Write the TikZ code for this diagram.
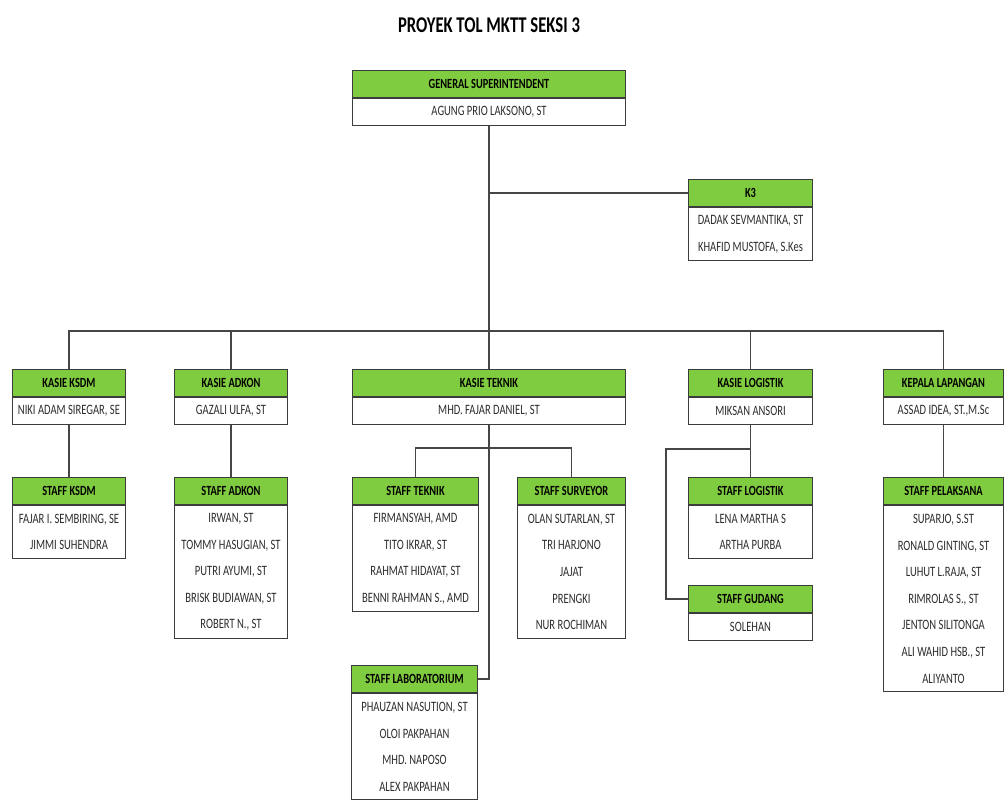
\documentclass[tikz,border=0pt]{standalone}
\usepackage{fontspec}
\setmainfont{Carlito}[FakeStretch=0.74]
\usepackage{tikz}
\usetikzlibrary{calc}
\usepackage{xcolor}
\definecolor{kgreen}{RGB}{128,204,64}
\definecolor{boxline}{RGB}{60,60,60}
\definecolor{linegray}{RGB}{70,70,70}
\definecolor{nametext}{RGB}{45,45,45}

\tikzset{
  head/.style={draw=boxline, line width=1pt, fill=kgreen, anchor=north west,
    minimum height=27pt, inner sep=0pt, text=black,
    font=\bfseries\fontsize{14}{14}\selectfont},
  body/.style={draw=boxline, line width=1pt, fill=white, anchor=north,
    align=center, inner sep=0pt, text=nametext,
    font=\fontsize{14.3}{26.6}\selectfont},
  link/.style={draw=linegray, line width=1.3pt}
}

\begin{document}
\begin{tikzpicture}[x=1pt,y=1pt]
\useasboundingbox (0,0) rectangle (1004,-801);

% Title
\node[font=\bfseries\fontsize{22.5}{22.5}\selectfont] (title) at (489,-25) {PROYEK TOL MKTT SEKSI 3};

% Top
\node[head, minimum width=273pt] (gs) at (352,-70) {GENERAL SUPERINTENDENT};
\node[body, minimum width=273pt, minimum height=26.6pt] (gsB) at (gs.south) {AGUNG PRIO LAKSONO, ST};

% K3
\node[head, minimum width=124pt] (k3) at (688,-179) {K3};
\node[body, minimum width=124pt, minimum height=53.2pt] (k3B) at (k3.south) {DADAK SEVMANTIKA, ST\\KHAFID MUSTOFA, S.Kes};

% Kasie row
\node[head, minimum width=113pt] (kksdm) at (12,-369) {KASIE KSDM};
\node[body, minimum width=113pt, minimum height=26.6pt] (kksdmB) at (kksdm.south) {NIKI ADAM SIREGAR, SE};
\node[head, minimum width=113pt] (kadkon) at (174,-369) {KASIE ADKON};
\node[body, minimum width=113pt, minimum height=26.6pt] (kadkonB) at (kadkon.south) {GAZALI ULFA, ST};
\node[head, minimum width=273pt] (ktek) at (352,-369) {KASIE TEKNIK};
\node[body, minimum width=273pt, minimum height=26.6pt] (ktekB) at (ktek.south) {MHD. FAJAR DANIEL, ST};
\node[head, minimum width=124pt] (klog) at (688,-369) {KASIE LOGISTIK};
\node[body, minimum width=124pt, minimum height=26.6pt] (klogB) at (klog.south) {MIKSAN ANSORI};
\node[head, minimum width=120pt] (kpl) at (883,-369) {KEPALA LAPANGAN};
\node[body, minimum width=120pt, minimum height=26.6pt] (kplB) at (kpl.south) {ASSAD IDEA, ST.,M.Sc};

% Staff row
\node[head, minimum width=113pt] (sksdm) at (12,-477) {STAFF KSDM};
\node[body, minimum width=113pt, minimum height=53.2pt] (sksdmB) at (sksdm.south) {FAJAR I. SEMBIRING, SE\\JIMMI SUHENDRA};
\node[head, minimum width=113pt] (sadkon) at (174,-477) {STAFF ADKON};
\node[body, minimum width=113pt, minimum height=133pt] (sadkonB) at (sadkon.south) {IRWAN, ST\\TOMMY HASUGIAN, ST\\PUTRI AYUMI, ST\\BRISK BUDIAWAN, ST\\ROBERT N., ST};
\node[head, minimum width=126pt] (stek) at (352,-477) {STAFF TEKNIK};
\node[body, minimum width=126pt, minimum height=106.4pt] (stekB) at (stek.south) {FIRMANSYAH, AMD\\TITO IKRAR, ST\\RAHMAT HIDAYAT, ST\\BENNI RAHMAN S., AMD};
\node[head, minimum width=108pt] (ssurv) at (517,-477) {STAFF SURVEYOR};
\node[body, minimum width=108pt, minimum height=133pt] (ssurvB) at (ssurv.south) {OLAN SUTARLAN, ST\\TRI HARJONO\\JAJAT\\PRENGKI\\NUR ROCHIMAN};
\node[head, minimum width=124pt] (slog) at (688,-477) {STAFF LOGISTIK};
\node[body, minimum width=124pt, minimum height=53.2pt] (slogB) at (slog.south) {LENA MARTHA S\\ARTHA PURBA};
\node[head, minimum width=124pt] (sgud) at (688,-585) {STAFF GUDANG};
\node[body, minimum width=124pt, minimum height=26.6pt] (sgudB) at (sgud.south) {SOLEHAN};
\node[head, minimum width=120pt] (spel) at (883,-477) {STAFF PELAKSANA};
\node[body, minimum width=120pt, minimum height=186.2pt] (spelB) at (spel.south) {SUPARJO, S.ST\\RONALD GINTING, ST\\LUHUT L.RAJA, ST\\RIMROLAS S., ST\\JENTON SILITONGA\\ALI WAHID HSB., ST\\ALIYANTO};
\node[head, minimum width=126pt] (slab) at (351,-665) {STAFF LABORATORIUM};
\node[body, minimum width=126pt, minimum height=106.4pt] (slabB) at (slab.south) {PHAUZAN NASUTION, ST\\OLOI PAKPAHAN\\MHD. NAPOSO\\ALEX PAKPAHAN};

% Connectors
\coordinate (bus) at (0,-331);
\coordinate (tekbr) at (0,-448);
\coordinate (logbr) at (666,-449);
\draw[link] (gsB.south) -- (gsB.south |- bus);
\draw[link] (gsB.south |- k3.west) -- (k3.west);
\draw[link] (kksdm.north) |- (kpl.north |- bus) -- (kpl.north);
\draw[link] (kadkon.north) -- (kadkon.north |- bus);
\draw[link] (ktek.north) -- (ktek.north |- bus);
\draw[link] (klog.north) -- (klog.north |- bus);
\draw[link] (kksdmB.south) -- (sksdm.north);
\draw[link] (kadkonB.south) -- (sadkon.north);
\draw[link] (kplB.south) -- (spel.north);
\draw[link] (stek.north) |- (ssurv.north |- tekbr) -- (ssurv.north);
\draw[link] (ktekB.south) |- (slab.east);
\draw[link] (klogB.south) -- (slog.north);
\draw[link] (slog.north |- logbr) -- (logbr) |- (sgud.west);
\end{tikzpicture}
\end{document}
